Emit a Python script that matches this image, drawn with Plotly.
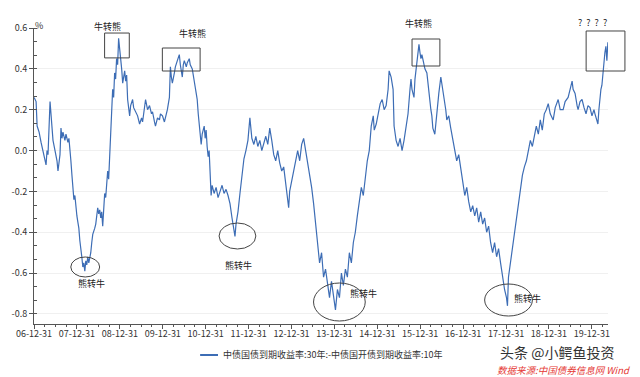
import pandas as pd
import plotly.graph_objects as go

# time of each reading, in decimal years
t_years = [
    2007.000, 2007.046, 2007.070, 2007.116, 2007.162, 2007.209, 2007.232, 2007.278, 2007.301, 2007.324,
    2007.371, 2007.394, 2007.417, 2007.440, 2007.487, 2007.533, 2007.556, 2007.603, 2007.626, 2007.649,
    2007.672, 2007.718, 2007.742, 2007.788, 2007.811, 2007.834, 2007.857, 2007.881, 2007.904, 2007.927,
    2007.950, 2007.973, 2007.997,
    2008.020, 2008.043, 2008.066, 2008.089, 2008.112, 2008.136, 2008.159, 2008.182, 2008.205, 2008.228,
    2008.251, 2008.275, 2008.298, 2008.321, 2008.344, 2008.367, 2008.414, 2008.437, 2008.460, 2008.483,
    2008.506, 2008.530, 2008.553, 2008.576, 2008.599, 2008.622, 2008.645, 2008.669, 2008.692, 2008.715,
    2008.738, 2008.761, 2008.784, 2008.808, 2008.831, 2008.854, 2008.877, 2008.900, 2008.923, 2008.947,
    2008.970, 2008.993,
    2009.016, 2009.039, 2009.063, 2009.086, 2009.109, 2009.132, 2009.155, 2009.178, 2009.202, 2009.225,
    2009.248, 2009.294, 2009.318, 2009.364, 2009.410, 2009.457, 2009.503, 2009.526, 2009.573, 2009.596,
    2009.642, 2009.688, 2009.735, 2009.758, 2009.804, 2009.827, 2009.874, 2009.920, 2009.943, 2009.990,
    2010.036, 2010.059, 2010.105, 2010.152, 2010.175, 2010.198, 2010.221, 2010.268, 2010.291, 2010.337,
    2010.383, 2010.407, 2010.453, 2010.476, 2010.499, 2010.546, 2010.569, 2010.615, 2010.638, 2010.685,
    2010.731, 2010.754, 2010.777, 2010.800, 2010.824, 2010.847, 2010.870, 2010.893, 2010.916, 2010.939,
    2010.963, 2010.986,
    2011.009, 2011.032, 2011.056, 2011.079, 2011.102, 2011.125, 2011.148, 2011.195, 2011.241, 2011.287,
    2011.334, 2011.380, 2011.426, 2011.473, 2011.519, 2011.565, 2011.612, 2011.658, 2011.681, 2011.705,
    2011.751, 2011.797, 2011.844, 2011.890, 2011.936, 2011.983,
    2012.029, 2012.052, 2012.075, 2012.122, 2012.168, 2012.214, 2012.261, 2012.307, 2012.353, 2012.400,
    2012.446, 2012.492, 2012.539, 2012.585, 2012.631, 2012.678, 2012.724, 2012.771, 2012.817, 2012.863,
    2012.910, 2012.933, 2012.956,
    2013.002, 2013.049, 2013.095, 2013.141, 2013.188, 2013.234, 2013.280, 2013.327, 2013.373, 2013.419,
    2013.466, 2013.512, 2013.559, 2013.605, 2013.651, 2013.698, 2013.744, 2013.790, 2013.837, 2013.883,
    2013.929, 2013.976,
    2014.022, 2014.068, 2014.115, 2014.161, 2014.207, 2014.254, 2014.300, 2014.346, 2014.393, 2014.439,
    2014.485, 2014.532, 2014.578, 2014.625, 2014.671, 2014.717, 2014.764, 2014.810, 2014.856, 2014.903,
    2014.926, 2014.972,
    2015.019, 2015.065, 2015.111, 2015.158, 2015.204, 2015.250, 2015.273, 2015.320, 2015.366, 2015.389,
    2015.436, 2015.482, 2015.528, 2015.575, 2015.621, 2015.667, 2015.714, 2015.760, 2015.783, 2015.806,
    2015.853, 2015.876, 2015.899, 2015.922, 2015.945, 2015.969, 2015.992,
    2016.015, 2016.038, 2016.061, 2016.108, 2016.154, 2016.200, 2016.247, 2016.270, 2016.293, 2016.339,
    2016.386, 2016.432, 2016.479, 2016.502, 2016.548, 2016.594, 2016.618, 2016.664, 2016.710, 2016.757,
    2016.803, 2016.849, 2016.896, 2016.942, 2016.988,
    2017.035, 2017.081, 2017.127, 2017.174, 2017.220, 2017.267, 2017.313, 2017.359, 2017.406, 2017.452,
    2017.498, 2017.545, 2017.591, 2017.637, 2017.684, 2017.730, 2017.777, 2017.823, 2017.869, 2017.916,
    2017.962,
    2018.008, 2018.031, 2018.054, 2018.101, 2018.147, 2018.194, 2018.240, 2018.286, 2018.333, 2018.379,
    2018.425, 2018.472, 2018.518, 2018.564, 2018.611, 2018.657, 2018.703, 2018.750, 2018.796, 2018.842,
    2018.889, 2018.935, 2018.981,
    2019.028, 2019.097, 2019.144, 2019.213, 2019.260, 2019.329, 2019.375, 2019.445, 2019.491, 2019.538,
    2019.561, 2019.607, 2019.654, 2019.677, 2019.723, 2019.769, 2019.816, 2019.862, 2019.908, 2019.955,
    2020.001, 2020.048, 2020.071, 2020.117, 2020.140, 2020.163, 2020.187, 2020.210, 2020.233, 2020.256,
    2020.279, 2020.303, 2020.326, 2020.349, 2020.372,
]

# 30y CGB yield minus 10y CDB yield, in %
spread = [
    0.26, 0.24, 0.12, 0.09, 0.04, 0.00, -0.03, -0.07, 0.00, -0.02,
    0.24, 0.18, 0.10, 0.05, 0.00, -0.05, -0.10, -0.02, 0.11, 0.06,
    0.09, 0.05, 0.08, 0.04, 0.06, 0.02, -0.05, -0.12, -0.19, -0.24,
    -0.22, -0.28, -0.32,
    -0.35, -0.38, -0.44, -0.50, -0.52, -0.57, -0.55, -0.59, -0.54, -0.56,
    -0.52, -0.55, -0.53, -0.50, -0.45, -0.41, -0.38, -0.36, -0.32, -0.28,
    -0.31, -0.29, -0.33, -0.30, -0.37, -0.26, -0.21, -0.23, -0.16, -0.10,
    -0.14, -0.03, 0.15, 0.22, 0.30, 0.26, 0.38, 0.35, 0.45, 0.42,
    0.55, 0.50,
    0.46, 0.40, 0.33, 0.37, 0.39, 0.34, 0.37, 0.25, 0.22, 0.17,
    0.22, 0.25, 0.21, 0.19, 0.17, 0.13, 0.16, 0.14, 0.21, 0.25,
    0.20, 0.22, 0.18, 0.19, 0.14, 0.12, 0.16, 0.15, 0.18, 0.17,
    0.14, 0.16, 0.20, 0.26, 0.41, 0.36, 0.33, 0.38, 0.41, 0.44,
    0.47, 0.42, 0.36, 0.42, 0.44, 0.41, 0.43, 0.45, 0.42, 0.40,
    0.35, 0.31, 0.28, 0.25, 0.18, 0.13, 0.08, 0.03, 0.08, 0.11,
    0.12, 0.06,
    0.10, 0.02, -0.03, 0.00, -0.14, -0.22, -0.17, -0.21, -0.18, -0.23,
    -0.20, -0.17, -0.21, -0.19, -0.22, -0.26, -0.33, -0.38, -0.42, -0.36,
    -0.30, -0.21, -0.12, -0.04, 0.00, 0.05,
    0.16, 0.10, 0.06, 0.03, 0.07, 0.02, 0.05, 0.00, 0.04, 0.07,
    0.03, 0.11, 0.05, -0.02, -0.05, 0.00, -0.06, -0.10, -0.08, -0.16,
    -0.22, -0.28, -0.20,
    -0.15, -0.10, -0.04, 0.00, -0.05, 0.03, 0.06, 0.00, -0.05, -0.10,
    -0.18, -0.26, -0.35, -0.45, -0.55, -0.50, -0.62, -0.58, -0.66, -0.72,
    -0.64, -0.70,
    -0.78, -0.68, -0.72, -0.60, -0.66, -0.58, -0.62, -0.50, -0.55, -0.45,
    -0.40, -0.32, -0.25, -0.18, -0.22, -0.12, -0.05, 0.00, 0.12, 0.17,
    0.10, 0.13,
    0.18, 0.23, 0.25, 0.20, 0.22, 0.30, 0.39, 0.36, 0.30, 0.12,
    0.05, 0.02, 0.06, 0.00, 0.05, 0.12, 0.18, 0.30, 0.35, 0.30,
    0.26, 0.35, 0.39, 0.44, 0.47, 0.52, 0.48,
    0.45, 0.47, 0.44, 0.40, 0.38, 0.28, 0.20, 0.17, 0.11, 0.08,
    0.20, 0.28, 0.36, 0.33, 0.26, 0.20, 0.15, 0.17, 0.11, 0.05,
    0.00, -0.05, -0.02, -0.10, -0.15,
    -0.22, -0.18, -0.25, -0.30, -0.27, -0.32, -0.28, -0.35, -0.30, -0.36,
    -0.33, -0.40, -0.37, -0.45, -0.50, -0.45, -0.52, -0.48, -0.55, -0.62,
    -0.68,
    -0.72, -0.76, -0.62, -0.55, -0.48, -0.40, -0.32, -0.25, -0.18, -0.12,
    -0.08, -0.05, 0.00, 0.05, 0.02, 0.08, 0.12, 0.08, 0.15, 0.10,
    0.18, 0.20, 0.23,
    0.18, 0.15, 0.21, 0.25, 0.20, 0.20, 0.24, 0.26, 0.30, 0.34,
    0.30, 0.28, 0.22, 0.20, 0.24, 0.25, 0.21, 0.18, 0.22, 0.21,
    0.17, 0.20, 0.18, 0.15, 0.13, 0.20, 0.26, 0.30, 0.32, 0.38,
    0.44, 0.48, 0.51, 0.44, 0.53,
]

y_tick_vals = [0.6, 0.4, 0.2, 0.0, -0.2, -0.4, -0.6, -0.8]
y_tick_text = ["0.6", "0.4", "0.2", "0.0", "-0.2", "-0.4", "-0.6", "-0.8"]
x_tick_years = list(range(2006, 2020))
series_name = "中债国债到期收益率:30年:-中债国开债到期收益率:10年"

bull_bear_labels = ["牛转熊", "牛转熊", "牛转熊", "? \u00a0? \u00a0? \u00a0?"]
bear_bull_labels = ["熊转牛", "熊转牛", "熊转牛", "熊转牛"]


def to_date(t):
    y = int(t)
    return pd.Timestamp(f"{y}-01-01") + pd.to_timedelta((t - y) * 365.25, unit="D")


dates = [to_date(t) for t in t_years]
x_end = to_date(2020.375)

major_ticks = [f"{y}-12-31" for y in x_tick_years]
minor_ticks = [d.strftime("%Y-%m-%d") for d in pd.date_range("2006-12-31", "2020-03-31", freq="QE")]

FONT = "Noto Sans CJK SC, Microsoft YaHei, sans-serif"
TXT = "#333333"
LINE = "#3d6db5"

fig = go.Figure()
fig.add_trace(go.Scatter(x=dates, y=spread, mode="lines", name=series_name,
                         line=dict(color=LINE, width=1.2), showlegend=False))

fig.update_layout(
    width=640, height=377,
    margin=dict(l=31, r=32, t=28, b=53),
    paper_bgcolor="white", plot_bgcolor="white",
    font=dict(family=FONT, size=9, color=TXT),
)
fig.update_xaxes(
    type="date", range=["2006-12-31", x_end],
    tickmode="array", tickvals=major_ticks, tickformat="%y-%m-%d",
    ticks="outside", ticklen=4, tickcolor="#555", tickwidth=1,
    minor=dict(tickmode="array", tickvals=minor_ticks, ticks="outside", ticklen=2, tickcolor="#555"),
    showline=True, linecolor="#555", linewidth=1, showgrid=False, zeroline=False,
    tickfont=dict(size=9, color=TXT, family=FONT),
    ticklabelstandoff=-3,
)
fig.update_yaxes(
    range=[-0.849, 0.6],
    tickmode="array", tickvals=y_tick_vals, ticktext=y_tick_text,
    ticks="outside", ticklen=4, tickcolor="#555", tickwidth=1,
    minor=dict(dtick=0.2 / 3, tick0=0, ticks="inside", ticklen=3, tickcolor="#555", showgrid=False),
    showline=True, linecolor="#555", linewidth=1,
    showgrid=True, gridcolor="#f0f0f0", gridwidth=1, zeroline=False,
    tickfont=dict(size=9, color=TXT, family=FONT),
)


def note(text, x, y, size=9, color="#222", xanchor="center"):
    fig.add_annotation(text=text, xref="paper", yref="paper", x=x, y=y, showarrow=False,
                       xanchor=xanchor, yanchor="middle", font=dict(size=size, color=color))


# "%" unit label at top of y axis
note("%", 0.008, 1.007, color=TXT)

# rectangles: bull -> bear
boxes = [(0.123, 0.899, 0.166, 0.983), (0.2236, 0.8547, 0.2894, 0.9324),
         (0.6586, 0.8716, 0.7071, 0.9628), (0.9619, 0.8547, 1.0295, 0.9899)]
box_labels = [(0.1282, 1.005), (0.2756, 0.983), (0.6707, 1.015), (0.9723, 1.020)]
for (x0, y0, x1, y1), (lx, ly), txt in zip(boxes, box_labels, bull_bear_labels):
    fig.add_shape(type="rect", xref="paper", yref="paper", x0=x0, y0=y0, x1=x1, y1=y1,
                  line=dict(color="#444", width=1))
    note(txt, lx, ly)

# ellipses: bear -> bull
ellipses = [(0.0641, 0.1588, 0.1144, 0.2264), (0.3224, 0.2534, 0.3865, 0.3412),
            (0.4870, 0.0101, 0.5771, 0.1385), (0.7851, 0.0270, 0.8683, 0.1351)]
ell_labels = [(0.1005, 0.1385), (0.3570, 0.1960), (0.5737, 0.1014), (0.8596, 0.0845)]
for (x0, y0, x1, y1), (lx, ly), txt in zip(ellipses, ell_labels, bear_bull_labels):
    fig.add_shape(type="circle", xref="paper", yref="paper", x0=x0, y0=y0, x1=x1, y1=y1,
                  line=dict(color="#444", width=1))
    note(txt, lx, ly)

# legend (drawn manually to match the short sample line)
fig.add_shape(type="line", xref="paper", yref="paper", x0=0.2894, x1=0.3206, y0=-0.1047, y1=-0.1047,
              line=dict(color=LINE, width=2))
note(series_name, 0.3258, -0.1047, color=TXT, xanchor="left")

# watermark / source
note("头条 @小鳄鱼投资", 0.8076, -0.0946, size=14, color="#333", xanchor="left")
note("<i>数据来源:中国债券信息网 Wind</i>", 0.8024, -0.1570, size=9.5, color="#e53935", xanchor="left")

fig.write_html("out.html")
